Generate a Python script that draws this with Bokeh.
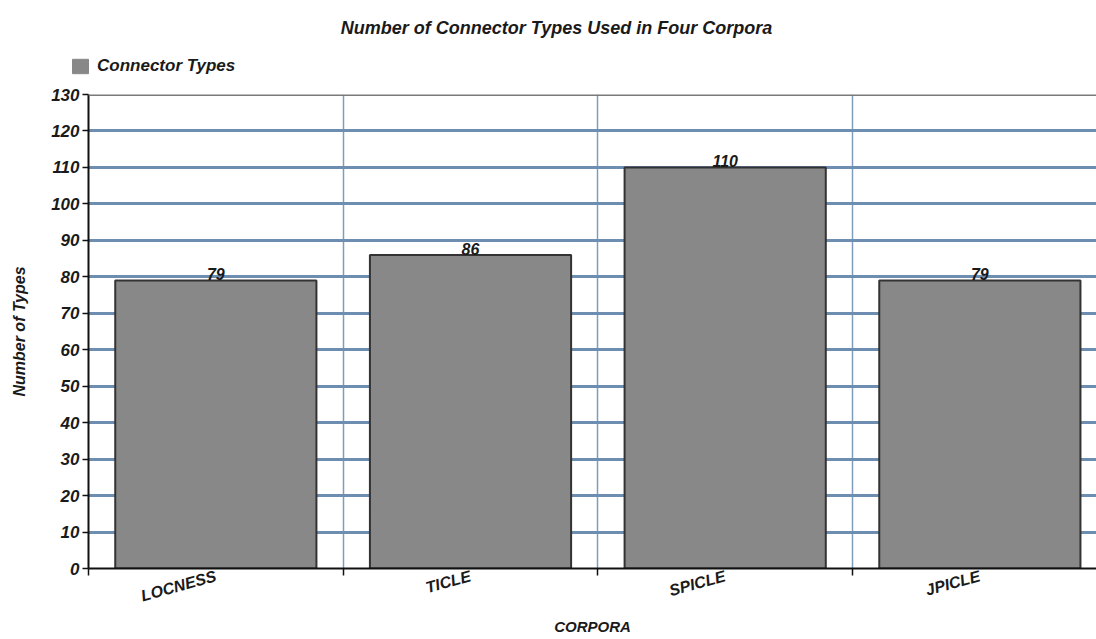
from bokeh.plotting import figure
from bokeh.layouts import column
from bokeh.models import (ColumnDataSource, FixedTicker, Range1d, Span, Label,
                          LabelSet, Legend, LegendItem)
from bokeh.core.properties import value
from bokeh.embed import file_html
from bokeh.resources import INLINE

categories = ["LOCNESS", "TICLE", "SPICLE", "JPICLE"]
values = [79, 86, 110, 79]
y_ticks = list(range(0, 131, 10))
title_text = "Number of Connector Types Used in Four Corpora"
series_name = "Connector Types"
x_title = "CORPORA"
y_title = "Number of Types"

FONT = "Liberation Sans"
TXT = "#1a1a1a"
BAR_FILL = "#888888"

W = 1096
HDR_H = 84
MAIN_H = 639 - HDR_H

# ---------------- header: title + legend ----------------
hdr = figure(width=W, height=HDR_H, output_backend="svg", toolbar_location=None,
             x_range=Range1d(0, W), y_range=Range1d(0, HDR_H),
             x_axis_type=None, y_axis_type=None, min_border=0)
hdr.outline_line_color = None
hdr.grid.visible = False
if "frame_align" in hdr.properties():
    hdr.frame_align = False

title = Label(x=556, y=HDR_H - 27, text=title_text, text_align="center",
              text_baseline="middle", text_font=FONT,
              text_font_style="bold italic", text_font_size="18px", text_color=TXT)
hdr.add_layout(title)

proxy = hdr.vbar(x=[0], top=[0], width=0, fill_color=BAR_FILL,
                 line_color=BAR_FILL, visible=False)
legend = Legend(items=[LegendItem(label=series_name, renderers=[proxy])],
                location=(70, HDR_H - 76), orientation="horizontal",
                glyph_width=20, glyph_height=18, label_height=18, label_standoff=7,
                padding=0, margin=0, spacing=0,
                border_line_alpha=0, background_fill_alpha=0,
                label_text_font=FONT, label_text_font_style="bold italic",
                label_text_font_size="17px", label_text_color=TXT)
hdr.add_layout(legend)

# ---------------- main chart ----------------
xs = [i + 0.5 for i in range(len(categories))]
src = ColumnDataSource(dict(x=xs, top=values, label=[str(v) for v in values]))

p = figure(width=W, height=MAIN_H, output_backend="svg", toolbar_location=None,
           x_range=Range1d(0, 3.958), y_range=Range1d(0, 130),
           min_border_left=88, min_border_right=0, min_border_top=10,
           min_border_bottom=71)
p.outline_line_color = None
p.background_fill_color = "white"
if "frame_align" in p.properties():
    p.frame_align = False

p.xgrid.ticker = FixedTicker(ticks=list(range(1, len(categories))))
p.xgrid.grid_line_color = "#7e9cbd"
p.xgrid.grid_line_width = 1.5
p.ygrid.ticker = FixedTicker(ticks=y_ticks[1:-1])
p.ygrid.grid_line_color = "#6d8db1"
p.ygrid.grid_line_width = 3

bars = p.vbar(x="x", top="top", width=0.79, source=src, fill_color=BAR_FILL,
              line_color="#333333", line_width=2)

top_line = Span(location=p.y_range.end, dimension="width", line_color="#7a7a7a", line_width=3)
p.add_layout(top_line)

labels = LabelSet(x="x", y="top", text="label", source=src, y_offset=0,
                  text_align="center", text_baseline="bottom",
                  text_font=value(FONT), text_font_style="bold italic",
                  text_font_size="16px", text_color=TXT)
p.add_layout(labels)

xa = p.xaxis[0]
xa.ticker = FixedTicker(ticks=xs, minor_ticks=list(range(len(categories) + 1)))
xa.major_label_overrides = {x: c for x, c in zip(xs, categories)}
xa.major_tick_out = 0
xa.major_tick_in = 0
xa.minor_tick_out = 7
xa.minor_tick_in = 0
xa.minor_tick_line_color = "#111111"
xa.minor_tick_line_width = 1.5
xa.axis_line_color = "#111111"
xa.axis_line_width = 2
xa.major_label_orientation = 0.27
xa.major_label_standoff = 0
xa.major_label_text_font = FONT
xa.major_label_text_font_style = "bold italic"
xa.major_label_text_font_size = "16px"
xa.major_label_text_color = TXT
xa.axis_label = x_title
xa.axis_label_standoff = 2
xa.axis_label_text_font = FONT
xa.axis_label_text_font_style = "bold italic"
xa.axis_label_text_font_size = "15px"
xa.axis_label_text_color = TXT

ya = p.yaxis[0]
ya.ticker = FixedTicker(ticks=y_ticks)
ya.minor_tick_line_color = None
ya.major_tick_out = 6
ya.major_tick_in = 0
ya.major_tick_line_color = "#111111"
ya.major_tick_line_width = 1.5
ya.axis_line_color = "#111111"
ya.axis_line_width = 2
ya.major_label_standoff = 3
ya.major_label_text_font = FONT
ya.major_label_text_font_style = "bold italic"
ya.major_label_text_font_size = "17px"
ya.major_label_text_color = TXT
ya.axis_label = y_title
ya.axis_label_standoff = 20
ya.axis_label_text_font = FONT
ya.axis_label_text_font_style = "bold italic"
ya.axis_label_text_font_size = "16px"
ya.axis_label_text_color = TXT

layout = column(hdr, p, spacing=0)
open("out.html", "w").write(file_html(layout, INLINE))
